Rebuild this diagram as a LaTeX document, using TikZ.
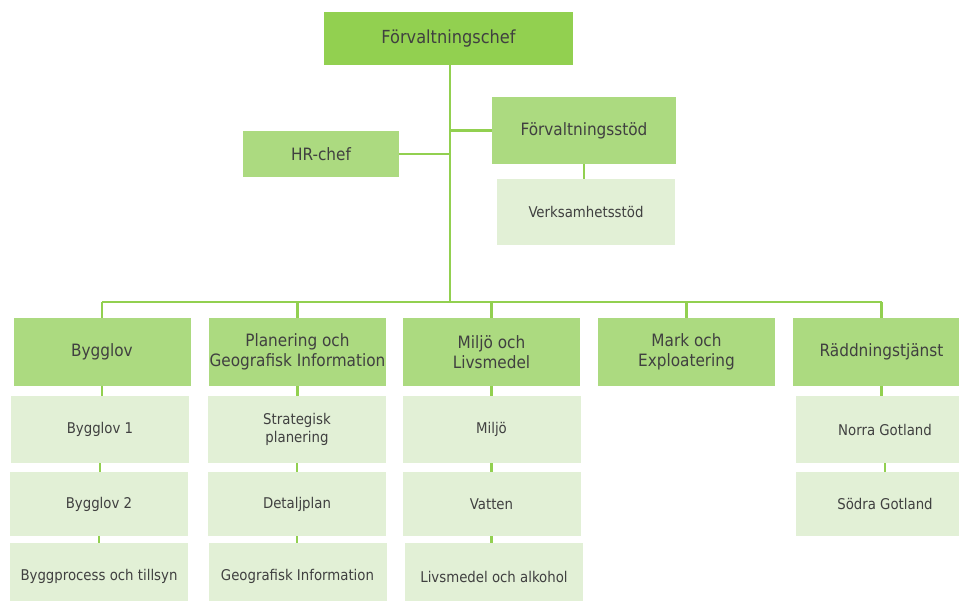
\documentclass[tikz,border=0pt]{standalone}
\usepackage{fontspec}
\setmainfont{DejaVu Sans Condensed}
\definecolor{topgreen}{HTML}{92D050}
\definecolor{midgreen}{HTML}{ACDA80}
\definecolor{lightgreen}{HTML}{E2F0D6}
\definecolor{linegreen}{HTML}{92D050}
\definecolor{txt}{HTML}{404040}
\tikzset{
  box/.style={rectangle, inner sep=0pt, align=center, text=txt},
  topbox/.style={box, fill=topgreen, minimum width=249pt, minimum height=53pt, font=\fontsize{18}{21}\selectfont},
  midbox/.style={box, fill=midgreen, minimum width=177pt, minimum height=68pt, font=\fontsize{17}{20}\selectfont},
  subbox/.style={box, fill=lightgreen, minimum width=178pt, minimum height=67pt, font=\fontsize{14.8}{18}\selectfont},
  conn/.style={draw=linegreen, line width=2.6pt}
}
\begin{document}
\begin{tikzpicture}[x=1pt, y=-1pt]
\clip (0,0) rectangle (959,601);
\fill[white] (0,0) rectangle (959,601);

% top level
\node[topbox] (top) at (448.5,38.5) {Förvaltningschef};
\node[midbox, minimum width=156pt, minimum height=46pt] (hr) at (321,154) {HR-chef};
\node[midbox, minimum width=184pt, minimum height=67pt] (fs) at (584,130.5) {Förvaltningsstöd};
\node[subbox, minimum width=178pt, minimum height=66pt] (vs) at (586,212) {Verksamhetsstöd};

% heads
\node[midbox] (h1) at (102,352) {Bygglov};
\node[midbox] (h2) at (297.5,352) {Planering och\\Geografisk Information};
\node[midbox] (h3) at (491.5,352) {Miljö och\\Livsmedel};
\node[midbox] (h4) at (686.5,352) {Mark och\\Exploatering};
\node[midbox] (h5) at (881.5,352) {Räddningstjänst};

% column 1
\node[subbox] (a1) at (100,429.5) {Bygglov 1};
\node[subbox, minimum height=64pt] (a2) at (99,504) {Bygglov 2};
\node[subbox] (a3) at (99,576.5) {Byggprocess och tillsyn};
% column 2
\node[subbox] (b1) at (297,429.5) {Strategisk\\planering};
\node[subbox, minimum height=64pt] (b2) at (297,504) {Detaljplan};
\node[subbox] (b3) at (297.5,576.5) {Geografisk Information};
% column 3
\node[subbox] (c1) at (491.5,429.5) {Miljö};
\node[subbox, minimum height=64pt] (c2) at (491.5,504) {Vatten};
\node[subbox] (c3) at (494,576.5) {Livsmedel och alkohol};
% column 5
\node[subbox] (e1) at (885,429.5) {Norra Gotland};
\node[subbox, minimum height=64pt] (e2) at (885,504) {Södra Gotland};

% connectors
\coordinate (bus) at (450,302);
\coordinate (trunk) at (450,65);
\draw[conn] (trunk) -- (bus);
\draw[conn] (hr.east) -- (hr.east -| trunk);
\draw[conn] (fs.west) -- (fs.west -| trunk);
\draw[conn] (fs.south) -- (fs.south |- vs.north);
\draw[conn] (h1.north |- bus) -- (h5.north |- bus);
\foreach \h in {h1,h2,h3,h4,h5}{
  \draw[conn] (\h.north) -- (\h.north |- bus);
}
\draw[conn] (h1.south) -- (h1.south |- a1.north);
\draw[conn] (a1.south) -- (a1.south |- a2.north);
\draw[conn] (a2.south) -- (a2.south |- a3.north);
\draw[conn] (h2.south) -- (h2.south |- b1.north);
\draw[conn] (b1.south) -- (b1.south |- b2.north);
\draw[conn] (b2.south) -- (b2.south |- b3.north);
\draw[conn] (h3.south) -- (h3.south |- c1.north);
\draw[conn] (c1.south) -- (c1.south |- c2.north);
\draw[conn] (c2.south) -- (c2.south |- c3.north);
\draw[conn] (h5.south) -- (h5.south |- e1.north);
\draw[conn] (e1.south) -- (e1.south |- e2.north);
\end{tikzpicture}
\end{document}
